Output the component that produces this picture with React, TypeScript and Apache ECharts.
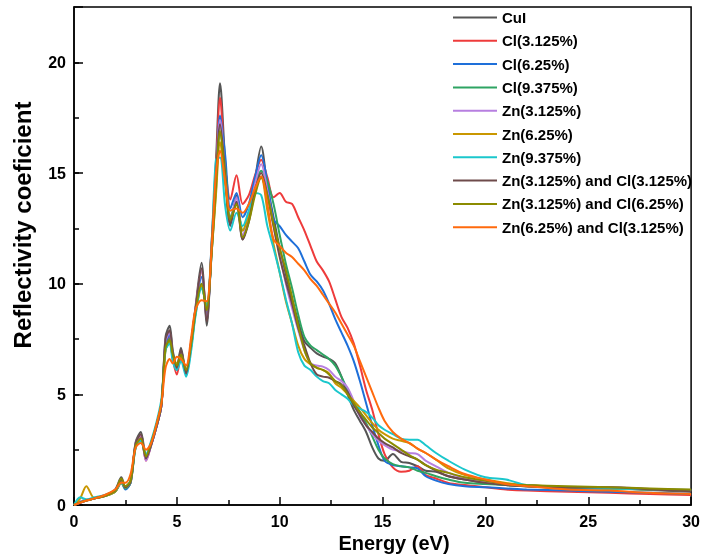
import React, { useEffect, useRef } from "react";
import * as echarts from "echarts";

const energy = [0, 0.3, 0.6, 1.0, 1.5, 2.0, 2.3, 2.5, 2.75, 3.0,
  3.25, 3.5, 3.75, 4.0, 4.25, 4.45, 4.65, 4.8, 5.0, 5.2,
  5.45, 5.7, 5.9, 6.2, 6.45, 6.7, 6.9, 7.1, 7.35, 7.6,
  7.9, 8.2, 8.5, 8.8, 9.1, 9.4, 9.7, 10.0, 10.3, 10.6,
  10.9, 11.2, 11.5, 11.8, 12.1, 12.4, 12.7, 13.0, 13.3, 13.6,
  13.9, 14.2, 14.5, 14.8, 15.1, 15.5, 15.9, 16.3, 16.7, 17.1,
  17.6, 18.2, 19.0, 20.0, 21.0, 22.0, 24.0, 26.0, 28.0, 30.0];

const seriesNames = [
  "CuI", "Cl(3.125%)", "Cl(6.25%)", "Cl(9.375%)", "Zn(3.125%)", "Zn(6.25%)", "Zn(9.375%)",
  "Zn(3.125%) and Cl(3.125%)", "Zn(3.125%) and Cl(6.25%)", "Zn(6.25%) and Cl(3.125%)",
];

const cuI = [0, 0.12, 0.2, 0.3, 0.42, 0.7, 1.25, 0.8, 1.1, 2.85,
  3.3, 2.2, 2.8, 3.5, 4.5, 7.6, 8.1, 7.0, 6.2, 7.1,
  5.9, 7.4, 8.9, 10.95, 8.1, 12.0, 15.5, 19.05, 15.5, 12.6,
  14.0, 12.0, 13.0, 14.7, 16.2, 14.4, 13.0, 11.6, 10.4, 9.3,
  8.3, 7.4, 7.1, 6.85, 6.7, 6.6, 6.4, 5.8, 5.0, 4.3,
  3.8, 3.3, 2.6, 2.1, 2.0, 2.3, 1.95, 1.9, 1.75, 1.55,
  1.5, 1.3, 1.15, 1.0, 0.9, 0.85, 0.75, 0.75, 0.68, 0.6];

const cl3 = [0, 0.1, 0.2, 0.3, 0.4, 0.65, 1.1, 0.75, 1.0, 2.7,
  3.1, 2.0, 2.7, 3.5, 4.5, 7.2, 7.6, 6.6, 5.9, 6.7,
  5.9, 7.3, 8.8, 10.6, 8.5, 11.8, 15.0, 18.4, 15.3, 13.8,
  14.9, 13.6, 14.0, 14.9, 15.6, 14.8, 13.9, 14.1, 13.7, 13.6,
  13.0, 12.4, 11.7, 11.0, 10.6, 10.1, 9.3, 8.5, 8.0, 7.3,
  6.3, 5.2, 4.3, 3.2, 2.3, 1.7, 1.5, 1.55, 1.75, 1.35,
  1.2, 1.0, 0.9, 0.8, 0.7, 0.65, 0.6, 0.55, 0.5, 0.45];

const cl6 = [0, 0.1, 0.2, 0.3, 0.4, 0.6, 1.0, 0.7, 1.0, 2.7,
  3.0, 2.1, 2.7, 3.5, 4.5, 7.3, 7.7, 6.7, 6.1, 6.8,
  5.9, 7.2, 8.7, 10.3, 8.6, 11.5, 14.5, 17.6, 15.8, 13.4,
  14.1, 13.0, 13.6, 14.8, 15.8, 14.6, 12.9, 12.6, 12.2, 11.9,
  11.6, 11.0, 10.4, 10.1, 9.7, 9.1, 8.4, 7.8, 7.2, 6.5,
  5.6, 4.6, 3.6, 2.7, 2.0, 1.8, 1.75, 1.7, 1.65, 1.3,
  1.1, 0.95, 0.85, 0.8, 0.75, 0.7, 0.65, 0.6, 0.55, 0.5];

const cl9 = [0, 0.15, 0.22, 0.3, 0.4, 0.6, 1.0, 0.75, 1.0, 2.6,
  2.9, 2.2, 2.8, 3.6, 4.6, 7.1, 7.5, 6.8, 6.3, 6.7,
  6.1, 7.2, 8.6, 10.0, 8.8, 11.5, 14.2, 16.8, 15.3, 13.0,
  13.7, 12.4, 13.2, 14.4, 15.1, 14.6, 13.6, 12.2, 10.9, 9.8,
  8.6, 7.6, 7.2, 7.0, 6.8, 6.6, 6.3, 5.8, 5.2, 4.6,
  4.2, 3.7, 3.1, 2.5, 2.1, 1.85, 1.75, 1.7, 1.55, 1.45,
  1.3, 1.15, 1.0, 0.95, 0.9, 0.85, 0.8, 0.75, 0.72, 0.68];

const zn3 = [0, 0.15, 0.25, 0.3, 0.45, 0.65, 1.15, 0.8, 1.05, 2.8,
  3.15, 2.0, 2.7, 3.5, 4.5, 7.4, 7.8, 6.8, 6.2, 6.9,
  6.0, 7.4, 8.8, 10.6, 8.4, 12.0, 15.0, 17.4, 15.0, 12.8,
  13.9, 12.2, 13.0, 14.5, 15.4, 14.2, 12.6, 11.3, 10.0, 8.9,
  7.9, 7.0, 6.4, 6.3, 6.25, 6.1, 5.8, 5.6, 5.3, 4.7,
  4.0, 3.6, 3.2, 2.9, 2.7, 2.5, 2.45, 2.35, 2.3, 2.0,
  1.75, 1.45, 1.2, 1.05, 0.95, 0.9, 0.8, 0.8, 0.72, 0.65];

const zn6 = [0, 0.3, 0.85, 0.3, 0.4, 0.6, 1.0, 0.8, 1.1, 2.7,
  2.95, 2.2, 2.8, 3.6, 4.6, 7.0, 7.4, 6.7, 6.4, 6.7,
  6.1, 7.2, 8.6, 9.9, 8.9, 11.5, 14.0, 16.4, 14.5, 12.8,
  13.6, 12.4, 13.1, 14.3, 14.8, 13.3, 11.8, 10.5, 9.2, 8.2,
  7.2, 6.6, 6.35, 6.2, 6.1, 5.95, 5.5, 5.3, 5.0, 4.7,
  4.4, 4.05, 3.7, 3.4, 3.2, 3.0, 2.9, 2.8, 2.55, 2.35,
  2.05, 1.65, 1.35, 1.15, 1.0, 0.9, 0.8, 0.75, 0.7, 0.65];

const zn9 = [0, 0.35, 0.25, 0.35, 0.45, 0.65, 1.0, 0.85, 1.1, 2.6,
  2.9, 2.3, 2.9, 3.7, 4.8, 7.0, 7.3, 6.5, 6.1, 6.5,
  5.8, 7.0, 8.5, 9.8, 9.0, 12.0, 15.6, 15.7, 13.5, 12.4,
  13.2, 12.6, 13.3, 14.1, 14.0, 12.6, 11.6, 10.5, 9.3, 8.2,
  6.9, 6.3, 6.1, 5.8, 5.6, 5.5, 5.2, 5.0, 4.8, 4.5,
  4.35, 4.2, 3.95, 3.6, 3.4, 3.2, 3.0, 2.95, 2.95, 2.7,
  2.35, 2.0, 1.6, 1.25, 1.15, 0.9, 0.78, 0.75, 0.7, 0.65];

const zn3cl3 = [0, 0.12, 0.2, 0.3, 0.42, 0.65, 1.15, 0.8, 1.05, 2.8,
  3.2, 2.1, 2.7, 3.5, 4.5, 7.5, 7.9, 6.9, 6.2, 7.0,
  5.95, 7.4, 8.8, 10.7, 8.3, 11.8, 14.8, 17.2, 15.0, 12.7,
  13.7, 12.0, 12.8, 14.2, 15.0, 14.0, 12.6, 11.2, 10.1, 9.1,
  8.0, 7.2, 6.4, 5.9, 5.8, 5.75, 5.6, 5.45, 5.1, 4.5,
  4.05, 3.6, 3.3, 3.0, 2.8, 2.6, 2.35, 2.2, 2.05, 1.8,
  1.55, 1.3, 1.15, 1.0, 0.9, 0.85, 0.78, 0.8, 0.7, 0.62];

const zn3cl6 = [0, 0.12, 0.2, 0.3, 0.42, 0.65, 1.2, 0.85, 1.1, 2.7,
  3.0, 2.2, 2.8, 3.6, 4.6, 7.1, 7.45, 6.8, 6.3, 6.8,
  6.1, 7.3, 8.7, 10.0, 8.8, 11.6, 14.5, 16.9, 14.8, 12.9,
  13.6, 12.1, 12.8, 14.0, 14.8, 14.0, 12.7, 11.6, 10.6, 9.4,
  8.1, 7.0, 6.4, 6.2, 6.1, 5.9, 5.6, 5.4, 5.0, 4.6,
  4.2, 3.85, 3.5, 3.25, 3.0, 2.75, 2.5, 2.25, 2.05, 1.8,
  1.6, 1.45, 1.25, 1.1, 0.95, 0.9, 0.85, 0.8, 0.75, 0.7];

const zn6cl3 = [0, 0.1, 0.2, 0.3, 0.45, 0.7, 1.0, 1.0, 1.4, 2.6,
  2.8, 2.5, 2.8, 3.6, 4.6, 6.2, 6.6, 6.4, 6.7, 6.6,
  6.3, 7.6, 8.8, 9.25, 9.2, 11.8, 15.0, 16.0, 14.6, 13.3,
  13.4, 13.2, 13.6, 14.3, 14.85, 13.6, 12.0, 11.7, 11.4, 11.2,
  10.9, 10.6, 10.2, 9.9, 9.5, 9.1, 8.7, 8.2, 7.7, 7.2,
  6.5, 5.8, 5.1, 4.4, 3.8, 3.3, 3.0, 2.8, 2.55, 2.35,
  2.05, 1.75, 1.4, 1.15, 0.95, 0.85, 0.7, 0.65, 0.55, 0.5];

const colors = ["#555555", "#ee3b3b", "#1e6fd9", "#2ea463", "#b77fe0", "#c99700", "#1bc7cc", "#6e4b4b", "#8b8b00", "#ff6a0d"];

const xTicks = [0, 5, 10, 15, 20, 25, 30];
const yLabelValues = [0, 5, 10, 15, 20];

const FONT = "'Liberation Sans', Arial, Helvetica, sans-serif";

export default function App() {
  const ref = useRef<HTMLDivElement>(null);
  useEffect(() => {
    if (!ref.current) return;
    const chart = echarts.init(ref.current, null, { renderer: "svg" });
    const dataSets = [cuI, cl3, cl6, cl9, zn3, zn6, zn9, zn3cl3, zn3cl6, zn6cl3];
    const axisColor = "#000";
    chart.setOption({
      animation: false,
      textStyle: { fontFamily: FONT },
      grid: { left: 74, right: 9, top: 7, bottom: 51, show: true, borderColor: axisColor, borderWidth: 1.5, backgroundColor: "transparent" },
      legend: {
        orient: "vertical",
        left: 448,
        top: 5,
        icon: "rect",
        itemWidth: 44,
        itemHeight: 2,
        itemGap: 8.3,
        data: seriesNames,
        textStyle: { fontSize: 15, fontWeight: "bold", color: "#000", fontFamily: FONT },
      },
      xAxis: {
        type: "value",
        min: xTicks[0],
        max: xTicks[xTicks.length - 1],
        interval: 5,
        axisLine: { onZero: false, lineStyle: { color: axisColor, width: 1.5 } },
        axisTick: { inside: true, length: 8, lineStyle: { color: axisColor, width: 1.5 } },
        minorTick: { show: true, splitNumber: 2, length: 5, lineStyle: { color: axisColor, width: 1.5 } },
        splitLine: { show: false },
        axisLabel: { color: "#000", fontSize: 16, fontWeight: "bold", margin: 8, fontFamily: FONT },
      },
      yAxis: [
        {
          type: "value",
          min: 0,
          max: 22.5,
          interval: 2.5,
          axisLine: { onZero: false, lineStyle: { color: axisColor, width: 1.5 } },
          axisTick: { inside: true, length: 5, lineStyle: { color: axisColor, width: 1.5 } },
          splitLine: { show: false },
          axisLabel: {
            color: "#000", fontSize: 16, fontWeight: "bold", margin: 8, fontFamily: FONT,
            showMaxLabel: false,
            formatter: (v: number) => (yLabelValues.indexOf(v) >= 0 ? String(v) : ""),
          },
        },
        {
          type: "value",
          min: 0,
          max: 22.5,
          interval: 5,
          position: "left",
          axisLine: { show: false },
          axisTick: { inside: true, length: 9, lineStyle: { color: axisColor, width: 1.5 } },
          splitLine: { show: false },
          axisLabel: { show: false },
        },
      ],
      graphic: [
        {
          type: "text",
          x: 394,
          y: 543,
          style: { text: "Energy (eV)", fill: "#000", font: "bold 20px " + FONT, align: "center", verticalAlign: "middle" },
        },
        {
          type: "text",
          x: 22,
          y: 225,
          rotation: Math.PI / 2,
          style: { text: "Reflectivity coeficient", fill: "#000", font: "bold 24px " + FONT, align: "center", verticalAlign: "middle" },
        },
      ],
      series: seriesNames.map((name, i) => ({
        name,
        type: "line",
        yAxisIndex: 0,
        data: energy.map((e, k) => [e, dataSets[i][k]]),
        symbol: "none",
        showSymbol: false,
        smooth: 0.3,
        color: colors[i],
        lineStyle: { width: 2, color: colors[i] },
      })),
    });
    return () => chart.dispose();
  }, []);
  return <div ref={ref} style={{ position: "fixed", left: 0, top: 0, width: 703, height: 556 }} />;
}
